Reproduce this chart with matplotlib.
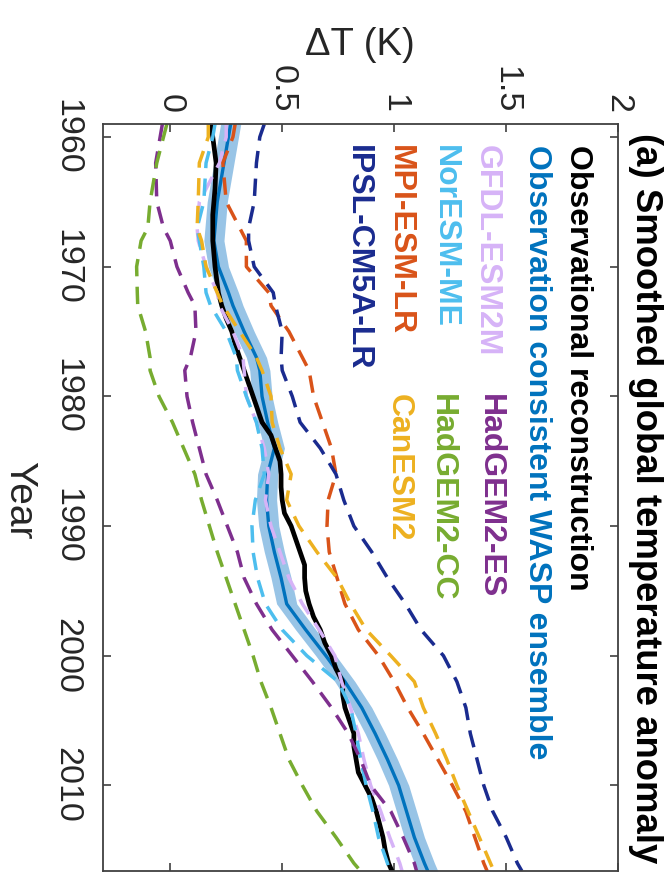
import matplotlib
matplotlib.use("Agg")
import matplotlib.pyplot as plt
import numpy as np

plt.rcParams['font.family'] = ['Liberation Sans', 'DejaVu Sans']

# years used for the model runs and the WASP ensemble
yrs = [1959, 1960, 1962, 1965, 1967, 1968, 1970, 1972, 1973, 1975, 1977, 1978,
       1980, 1982, 1984, 1986, 1988, 1990, 1992, 1994, 1996, 1998, 2000, 2002,
       2004, 2006, 2008, 2010, 2012, 2014, 2016, 2016.6]

wasp = [0.27, 0.26, 0.24, 0.21, 0.20, 0.195, 0.215, 0.26, 0.28, 0.33, 0.385, 0.40,
        0.41, 0.435, 0.465, 0.435, 0.43, 0.44, 0.465, 0.495, 0.52, 0.605, 0.695, 0.78,
        0.855, 0.915, 0.97, 1.02, 1.055, 1.09, 1.135, 1.15]
wasp_spread = 0.045

gfdl = [0.25, 0.25, 0.22, 0.13, 0.12, 0.125, 0.16, 0.21, 0.22, 0.28, 0.325, 0.33,
        0.34, 0.385, 0.42, 0.44, 0.425, 0.45, 0.49, 0.53, 0.59, 0.665, 0.735, 0.765,
        0.805, 0.84, 0.865, 0.895, 0.94, 0.98, 1.025, 1.035]
noresm = [0.20, 0.19, 0.16, 0.15, 0.12, 0.13, 0.15, 0.16, 0.18, 0.25, 0.295, 0.30,
          0.34, 0.385, 0.41, 0.42, 0.38, 0.365, 0.37, 0.39, 0.425, 0.50, 0.61, 0.75,
          0.805, 0.83, 0.85, 0.875, 0.905, 0.93, 0.97, 0.98]
mpi = [0.29, 0.28, 0.235, 0.25, 0.31, 0.34, 0.34, 0.44, 0.45, 0.53, 0.59, 0.62,
       0.64, 0.68, 0.72, 0.74, 0.705, 0.70, 0.71, 0.745, 0.78, 0.84, 0.93, 1.00,
       1.06, 1.13, 1.195, 1.26, 1.32, 1.36, 1.40, 1.415]
ipsl = [0.42, 0.40, 0.385, 0.375, 0.35, 0.35, 0.375, 0.46, 0.47, 0.50, 0.495, 0.50,
        0.545, 0.58, 0.67, 0.74, 0.775, 0.82, 0.90, 0.97, 1.05, 1.12, 1.22, 1.28,
        1.32, 1.34, 1.37, 1.40, 1.44, 1.50, 1.55, 1.57]
hadgem_es = [-0.035, -0.045, -0.065, -0.06, -0.03, 0.0, 0.03, 0.08, 0.11, 0.115, 0.09, 0.065,
             0.075, 0.10, 0.13, 0.16, 0.21, 0.255, 0.30, 0.33, 0.385, 0.455, 0.545, 0.635,
             0.72, 0.795, 0.85, 0.895, 0.985, 1.04, 1.09, 1.10]
hadgem_cc = [-0.015, -0.03, -0.06, -0.09, -0.10, -0.13, -0.15, -0.147, -0.145, -0.11, -0.09, -0.09,
             -0.05, 0.01, 0.06, 0.11, 0.14, 0.175, 0.21, 0.25, 0.29, 0.33, 0.37, 0.405,
             0.45, 0.49, 0.53, 0.59, 0.655, 0.74, 0.82, 0.85]
canesm = [0.17, 0.17, 0.13, 0.125, 0.12, 0.14, 0.16, 0.21, 0.235, 0.31, 0.385, 0.41,
          0.45, 0.455, 0.49, 0.54, 0.52, 0.575, 0.655, 0.745, 0.805, 0.875, 0.985, 1.09,
          1.13, 1.185, 1.235, 1.28, 1.33, 1.38, 1.43, 1.445]

# observational reconstruction
obs_yrs = [1959, 1960, 1962, 1964, 1966, 1968, 1970, 1972, 1973, 1974, 1975, 1976,
           1977, 1978, 1979, 1980, 1981, 1982, 1983, 1984, 1985, 1986, 1987, 1988,
           1989, 1990, 1991, 1992, 1993, 1994, 1995, 1996, 1997, 1998, 1999, 2000,
           2001, 2002, 2003, 2004, 2005, 2006, 2007, 2008, 2009, 2010, 2011, 2012,
           2013, 2014, 2015, 2016, 2016.6]
obs = [0.18, 0.19, 0.205, 0.20, 0.19, 0.19, 0.20, 0.215, 0.23, 0.25, 0.275, 0.29,
       0.31, 0.33, 0.35, 0.37, 0.39, 0.41, 0.45, 0.47, 0.49, 0.495, 0.495, 0.50,
       0.51, 0.54, 0.56, 0.58, 0.60, 0.60, 0.605, 0.62, 0.64, 0.67, 0.69, 0.72,
       0.74, 0.77, 0.77, 0.78, 0.80, 0.82, 0.82, 0.83, 0.84, 0.87, 0.90, 0.92,
       0.935, 0.95, 0.96, 0.975, 0.99]

models = [
    ('GFDL-ESM2M', gfdl, '#D6B3F7'),
    ('NorESM-ME', noresm, '#4DBEEE'),
    ('MPI-ESM-LR', mpi, '#D95319'),
    ('IPSL-CM5A-LR', ipsl, '#1A2B8F'),
    ('HadGEM2-ES', hadgem_es, '#7E2F8E'),
    ('HadGEM2-CC', hadgem_cc, '#77AC30'),
    ('CanESM2', canesm, '#EDB120'),
]

fig = plt.figure(figsize=(6.69, 8.76), dpi=100)
ax = fig.add_axes([0.154, 0.0057, 0.770, 0.8527])

# plot is drawn sideways: temperature along x, time running downwards
w = np.array(wasp)
ax.fill_betweenx(yrs, w - wasp_spread, w + wasp_spread, color='#98C4E6', lw=0)
ax.plot(wasp, yrs, color='#0072BD', lw=2.4)
ax.plot(obs, obs_yrs, color='k', lw=3.4)
for name, vals, col in models:
    ax.plot(vals, yrs, color=col, lw=2.5, ls=(0, (5.0, 3.0)))

ax.set_xlim(-0.3, 2.0)
ax.set_ylim(2016.6, 1959)
ax.set_xticks([0, 0.5, 1, 1.5, 2])
ax.set_xticklabels(['0', '0.5', '1', '1.5', '2'])
ax.set_yticks([1960, 1970, 1980, 1990, 2000, 2010])
ax.xaxis.tick_top()
ax.tick_params(axis='both', direction='in', length=6, width=1.2, color='#404040',
               labelsize=24.5, labelcolor='#262626',
               top=True, bottom=True, left=True, right=True)
ax.tick_params(axis='x', pad=8)
ax.tick_params(axis='y', pad=15)
for lab in ax.get_xticklabels():
    lab.set_rotation(-90)
    lab.set_ha('center')
for lab in ax.get_yticklabels():
    lab.set_rotation(-90)
    lab.set_va('center')
for s in ax.spines.values():
    s.set_color('#404040')
    s.set_linewidth(1.3)

fig.text(360 / 669, 1 - 45 / 876, '\u0394T (K)', fontsize=27.5, ha='center', va='center',
         color='#262626')
fig.text(19 / 669, 1 - 500 / 876, 'Year', fontsize=28, rotation=-90, ha='center',
         va='center', color='#262626')
fig.text(645 / 669, 1 - 133 / 876, '(a) Smoothed global temperature anomaly',
         fontsize=26.3, fontweight='bold', rotation=-90, ha='center', va='top')

# text legend, two columns
legend = [
    ('Observational reconstruction', 'k', 578, 145),
    ('Observation consistent WASP ensemble', '#0072BD', 537, 145),
    ('GFDL-ESM2M', '#D6B3F7', 487, 145),
    ('NorESM-ME', '#4DBEEE', 445, 145),
    ('MPI-ESM-LR', '#D95319', 400, 145),
    ('IPSL-CM5A-LR', '#1A2B8F', 358, 145),
    ('HadGEM2-ES', '#7E2F8E', 490, 394),
    ('HadGEM2-CC', '#77AC30', 442, 394),
    ('CanESM2', '#EDB120', 399, 394),
]
for txt, col, px, py in legend:
    fig.text(px / 669, 1 - py / 876, txt, color=col, fontsize=23, fontweight='bold',
             rotation=-90, ha='center', va='top')

fig.savefig('out.png', dpi=100)
